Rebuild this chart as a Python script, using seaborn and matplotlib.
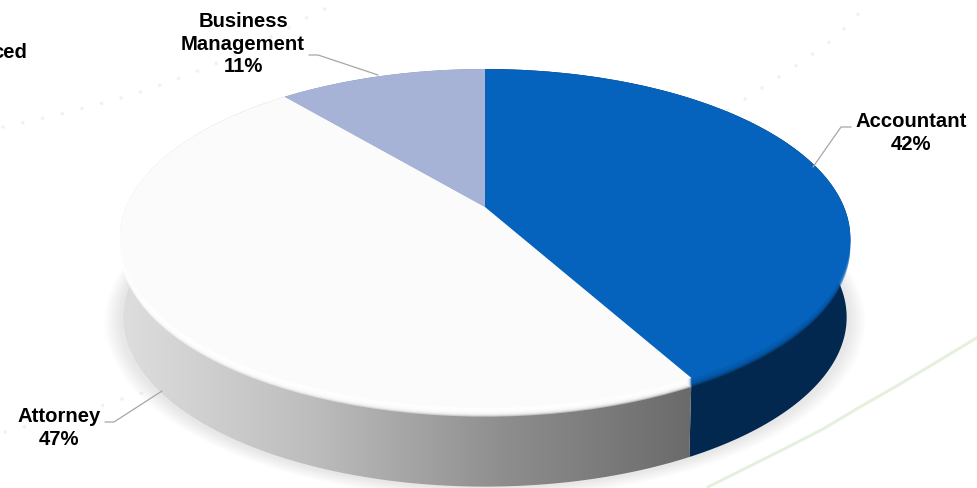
import numpy as np
import matplotlib
matplotlib.use("Agg")
import matplotlib.pyplot as plt
import seaborn as sns
from matplotlib.colors import LinearSegmentedColormap
from matplotlib.patches import Polygon
from matplotlib.transforms import Transform, Affine2D

# data
categories = ["Accountant", "Attorney", "Business\nManagement"]
shares = [42, 47, 11]
top_colors = ["#0563BD", "#FBFBFB", "#A6B3D7"]
side_colors = ["#03284F", None, "#7F8CAE"]

# layout (pixels), view of the tilted disc
CX, CY, A, B, K = 485.0, 207.0, 359.0, 163.5, 0.185
DEPTH, BOTTOM_SCALE = 79.0, 0.99

sns.set_theme(style="white")
plt.rcParams["font.family"] = ["Liberation Sans", "DejaVu Sans"]


class Tilt(Transform):
    input_dims = output_dims = 2
    is_affine = False

    def transform_non_affine(self, values):
        values = np.asarray(values, dtype=float)
        w = 1 + K * values[:, 1]
        return np.column_stack((CX + A * values[:, 0] / w, CY - B * values[:, 1] / w))


tilt = Tilt()
fig = plt.figure(figsize=(9.78, 4.88), dpi=100, facecolor="white")
ax = fig.add_axes([0, 0, 1, 1])


def disc(values, colors, dx=0.0, dy=0.0, radius=1.0, z=2.0):
    wedges, _ = ax.pie(values, colors=colors, startangle=90, counterclock=False,
                       radius=radius, wedgeprops={"linewidth": 0, "zorder": z})
    shift = Affine2D().translate(dx, dy)
    for w in wedges:
        w.set_transform(tilt + shift + ax.transData)
    return wedges


# background decoration
deco_dots = [
    ([3, 35, 65, 95, 125, 155, 185, 215, 245, 285, 315, 340],
     [127, 120, 113, 105, 97, 87, 76, 64, 50, 30, 13, 3]),
    ([728, 765, 800, 835, 872], [110, 86, 63, 38, 0]),
    ([5, 35, 65, 95, 125, 153], [432, 424, 416, 408, 398, 390]),
]
for xs, ys in deco_dots:
    ax.plot(xs, ys, color="#EEF3EB", lw=2.6, ls=(0, (0.01, 5.6)),
            dash_capstyle="round", zorder=1)
ax.plot([708, 750, 790, 823, 860, 900, 940, 978],
        [487, 466, 446, 429, 407, 384, 360, 337],
        color="#E5F0DF", lw=2.2, zorder=1)

# soft shadow under the disc
for r in np.linspace(1.0, 1.04, 12):
    disc([sum(shares)], [(0, 0, 0, 0.008)], dy=DEPTH + 2, radius=r, z=1.5)

# reference wedges to read the angles from
ref = disc(shares, top_colors, z=6)

# side walls
grey = LinearSegmentedColormap.from_list("wall", ["#DEDEDE", "#BDBDBD", "#8E8E8E", "#6A6A6A"])
for i, w in enumerate(ref):
    t = np.radians(np.linspace(w.theta1, w.theta2, 240))
    upper = tilt.transform(np.column_stack((np.cos(t), np.sin(t))))
    lower = np.column_stack((CX + (upper[:, 0] - CX) * BOTTOM_SCALE, upper[:, 1] + DEPTH))
    poly = np.vstack((upper, lower[::-1]))
    if side_colors[i] is None:
        im = ax.imshow(np.linspace(0, 1, 256)[None, :], cmap=grey, aspect="auto",
                       extent=(120, 695, 488, 0), zorder=3)
        im.set_clip_path(Polygon(poly, closed=True, transform=ax.transData))
    else:
        ax.add_patch(Polygon(poly, closed=True, fc=side_colors[i], ec="none", zorder=2.5 + 0.1 * (i == 0)))

# bevel between the top face and the wall
for d in np.linspace(9, 1, 9):
    rgba = [matplotlib.colors.to_rgba(c, 0.3) for c in top_colors]
    rgba[1] = (1, 1, 1, 0.5)
    disc(shares, rgba, dy=float(d), z=4 + (10 - d) * 0.1)

# labels
label_pos = [(911, 133), (59, 428), (243, 44)]
pcts = [f"{v}%" for v in shares]
for name, pct, (x, y) in zip(categories, pcts, label_pos):
    ax.text(x, y, f"{name}\n{pct}", ha="center", va="center", fontsize=14.6,
            fontweight="bold", color="black", linespacing=1.24, zorder=8)
ax.text(27, 53, "ced", ha="right", va="center", fontsize=14.6,
        fontweight="bold", color="black", zorder=8)

# leader lines
leaders = [
    ([851, 841, 813], [127, 127, 167]),
    ([105, 114, 162], [422, 422, 391]),
    ([309, 318, 378], [55, 55, 75]),
]
for xs, ys in leaders:
    ax.plot(xs, ys, color="#A6A6A6", lw=0.9, zorder=7)

ax.set_aspect("auto")
ax.set_xlim(0, 978)
ax.set_ylim(488, 0)
ax.axis("off")
fig.savefig("out.png", dpi=100, facecolor="white")
